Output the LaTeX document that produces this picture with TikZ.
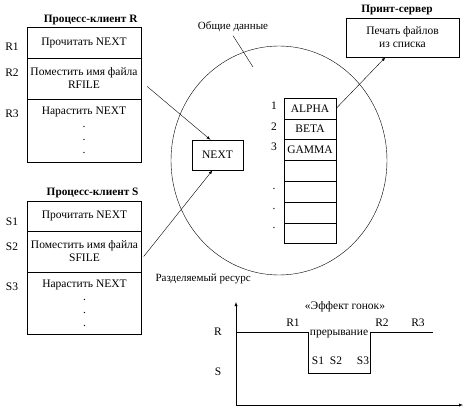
\documentclass[tikz,border=0pt]{standalone}
\usepackage{fontspec}
\setmainfont{Liberation Serif}
\usepackage{tikz}
\usetikzlibrary{shapes.geometric}

\begin{document}
\begin{tikzpicture}[x=1pt, y=-1pt, >=latex,
    every node/.style={font=\fontsize{11.5}{13}\selectfont},
    cell/.style={draw, rectangle, inner sep=0pt, align=center, minimum width=114pt},
    title/.style={font=\fontsize{11.3}{12}\selectfont\bfseries},
    note/.style={font=\fontsize{11}{12}\selectfont}]
    \useasboundingbox (0,0) rectangle (472,412);

    % Client R
    \node[title, anchor=base east] (titleR) at (141,23) {Процесс-клиент R};
    \node[cell, minimum height=31pt] (rA1) at (84,42.5) {Прочитать NEXT};
    \node[cell, minimum height=41pt] (rA2) at (84,78.5) {Поместить имя файла\\RFILE};
    \node[cell, minimum height=63pt] (rA3) at (84,130.5) {Нарастить NEXT\\.\\.\\.};
    \node (labR1) at (12,47) {R1};
    \node (labR2) at (12,73) {R2};
    \node (labR3) at (12,114) {R3};

    % Client S
    \node[title, anchor=base east] (titleS) at (142,196) {Процесс-клиент S};
    \node[cell, minimum height=30pt] (sA1) at (84.5,216) {Прочитать NEXT};
    \node[cell, minimum height=41pt] (sA2) at (84.5,251.5) {Поместить имя файла\\SFILE};
    \node[cell, minimum height=62pt] (sA3) at (84.5,303) {Нарастить NEXT\\.\\.\\.};
    \node (labS1) at (12,222) {S1};
    \node (labS2) at (12,247) {S2};
    \node (labS3) at (12,287) {S3};

    % Shared data
    \node[draw, ellipse, minimum width=216pt, minimum height=229pt, inner sep=0pt] (shared) at (279,160.5) {};
    \node[note] (sharedlab) at (233,27) {Общие данные};
    \coordinate (sharedtip) at (253,67);
    \draw (sharedlab.south) -- (sharedtip);
    \node[note, anchor=west] (reslab) at (152,279) {Разделяемый ресурс};

    \node[draw, rectangle, minimum width=51pt, minimum height=30pt] (next) at (217.5,155) {NEXT};

    % Print list
    \foreach \i/\txt in {1/ALPHA, 2/BETA, 3/GAMMA, 4/, 5/, 6/, 7/}
        \node[draw, rectangle, inner sep=0pt, minimum width=52pt, minimum height=20.8pt] (list\i) at (310,{98+20.8*(\i-0.5)}) {\txt};
    \node (num1) at (274,106) {1};
    \node (num2) at (274,127) {2};
    \node (num3) at (274,147) {3};
    \node (dot1) at (274,189) {.};
    \node (dot2) at (274,209) {.};
    \node (dot3) at (274,228) {.};

    % Print server
    \node[title] (titleP) at (397,10) {Принт-сервер};
    \node[draw, rectangle, minimum width=113pt, minimum height=39pt, align=center] (print) at (402.5,37.5) {Печать файлов\\из списка};

    % Arrows
    \draw[->] ([xshift=6pt, yshift=-8pt]rA2.east) -- ([xshift=-7pt]next.north);
    \draw[->] ([xshift=2pt, yshift=-5pt]sA2.east) -- ([xshift=-5pt]next.south);
    \draw[->] (list1.east) -- ([xshift=-17pt]print.south);

    % Race effect
    \coordinate (origin) at (236,405);
    \draw[->] (origin) -- (236,302);
    \draw[->] (origin) -- (463,405);
    \draw (236,332) -- (308,332) -- (308,373) -- (370,373) -- (370,332) -- (433,332);
    \node (raceTitle) at (345,307) {«Эффект гонок»};
    \node (tR) at (218,332) {R};
    \node (tS) at (218,372) {S};
    \node (tR1) at (293,323) {R1};
    \node (tR2) at (382,323) {R2};
    \node (tR3) at (418,323) {R3};
    \node (tInt) at (339,334) {прерывание};
    \node (tS1) at (318,361) {S1};
    \node (tS2) at (336,361) {S2};
    \node (tS3) at (363,361) {S3};
\end{tikzpicture}
\end{document}
